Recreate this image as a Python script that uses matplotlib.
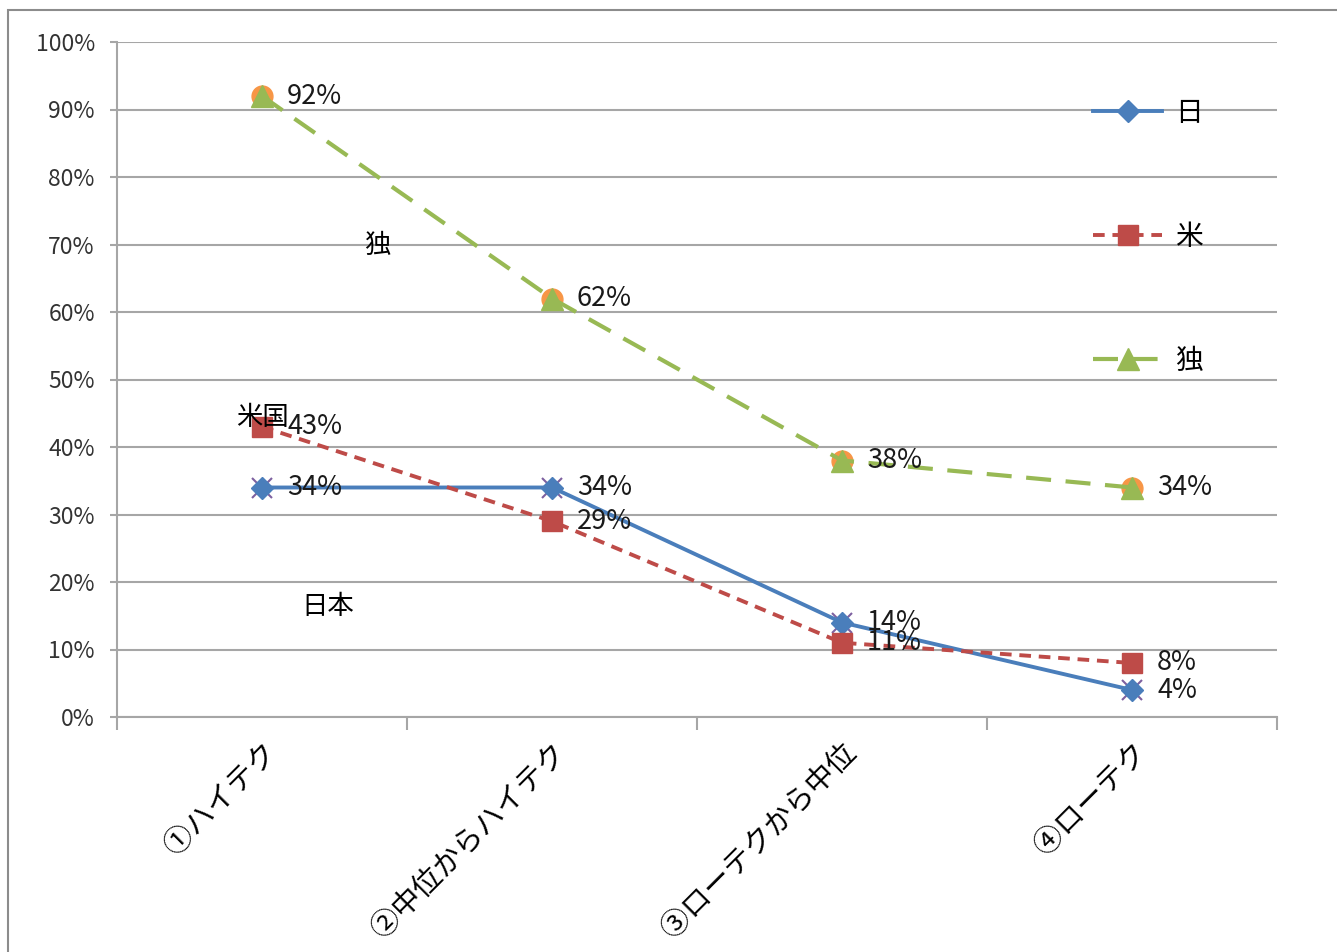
import numpy as np
import matplotlib
matplotlib.use('Agg')
import matplotlib.pyplot as plt
from matplotlib.patches import Rectangle

plt.rcParams['font.family'] = ['Noto Sans CJK JP', 'DejaVu Sans']

# technology-intensity categories
categories = ['①ハイテク', '②中位からハイテク', '③ローテクから中位', '④ローテク']

# share (%) for each country
jp = [34, 34, 14, 4]
us = [43, 29, 11, 8]
de = [92, 62, 38, 34]

x = np.arange(len(categories))

fig = plt.figure(figsize=(13.37, 9.52), dpi=100)
ax = fig.add_axes([117/1337, 1-717/952, (1277-117)/1337, (717-42)/952])

# outer frame of the chart area
fig.patches.append(Rectangle((8/1337, -0.1), 1.2, 1.1 - 10/952, transform=fig.transFigure,
                             fill=False, edgecolor='#8c8c8c', lw=1.5, clip_on=False))

grey = '#a6a6a6'
blue = '#4a7ebb'
red = '#be4b48'
green = '#98b954'

# hidden helper series (markers only)
ax.plot(x, jp, ls='none', marker='x', ms=14, mew=1.5, color='#7d60a0', zorder=3)
ax.plot(x, de, ls='none', marker='o', ms=15, color='#f79646', zorder=3)

l_jp, = ax.plot(x, jp, color=blue, lw=2.8, marker='D', ms=11, label='日', zorder=4)
l_us, = ax.plot(x, us, color=red, lw=2.8, ls=(0, (3, 2)), marker='s', ms=14,
                label='米', zorder=4)
l_de, = ax.plot(x, de, color=green, lw=3, ls=(0, (6, 3.5)), marker='^', ms=16,
                label='独', zorder=4)

# data labels
for series in (jp, us, de):
    for xi, v in zip(x, series):
        ax.annotate('%d%%' % v, (xi, v), xytext=(18, 0), textcoords='offset points',
                    ha='left', va='center', fontsize=19.5, color='#1a1a1a', zorder=5)

ax.text(0.397, 69.9, '独', ha='center', va='center', fontsize=19)
ax.text(0.0, 44.4, '米国', ha='center', va='center', fontsize=19, zorder=6)
ax.text(0.228, 16.4, '日本', ha='center', va='center', fontsize=19)

ax.set_xlim(-0.5, 3.5)
ax.set_ylim(0, 100)
ax.set_yticks(np.arange(0, 101, 10))
ax.set_yticklabels(['%d%%' % v for v in range(0, 101, 10)], fontsize=16.5, color='#333333')
ax.set_xticks(np.arange(-0.5, 4, 1))
ax.set_xticklabels([])
ax.set_xticks(x, minor=True)
# the Korean face draws the circled numbers full width
ax.set_xticklabels(categories, minor=True, rotation=45, ha='right', va='top',
                   rotation_mode='anchor', fontsize=21,
                   family=['Noto Sans CJK KR', 'Noto Sans CJK JP'])
ax.tick_params(axis='x', which='minor', length=0, pad=15)
ax.tick_params(axis='x', which='major', length=9, color=grey, width=1.5)
ax.tick_params(axis='y', length=5, color=grey, width=1.5, pad=11)

ax.grid(axis='y', color=grey, lw=1.5)
ax.set_axisbelow(True)
for s in ('top', 'right'):
    ax.spines[s].set_visible(False)
for s in ('left', 'bottom'):
    ax.spines[s].set_color(grey)
    ax.spines[s].set_linewidth(1.5)

ax.legend(handles=[l_jp, l_us, l_de], loc='upper left', frameon=False,
          bbox_to_anchor=(1093/1337, 1-98/952), bbox_transform=fig.transFigure,
          borderpad=0, borderaxespad=0, fontsize=20, labelspacing=3.38,
          handlelength=2.5, handletextpad=0.45, numpoints=1)

fig.savefig('out.png', dpi=100)
